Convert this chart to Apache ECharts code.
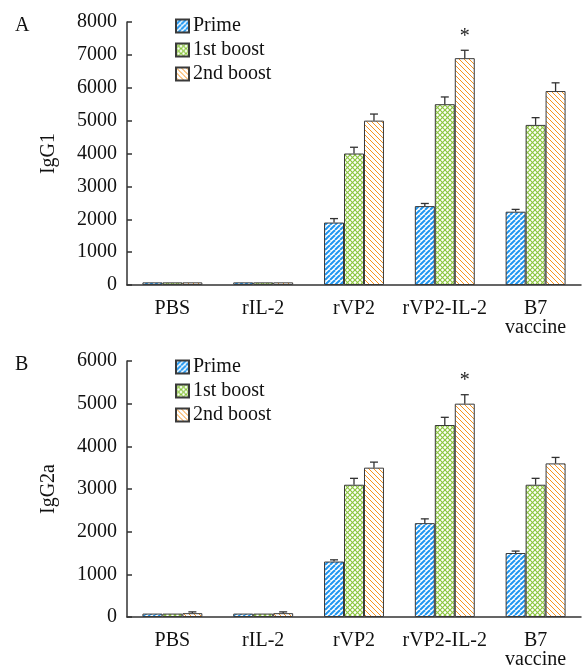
<!DOCTYPE html>
<html>
<head>
<meta charset="utf-8">
<script src="https://cdn.jsdelivr.net/npm/echarts@6/dist/echarts.min.js"></script>
<style>
  html, body { margin: 0; padding: 0; background: #fff; }
  #chart { width: 583px; height: 666px; }
</style>
</head>
<body>
<div id="chart"></div>
<script>
// data
var categories = ['PBS', 'rIL-2', 'rVP2', 'rVP2-IL-2', 'B7\nvaccine'];
var seriesNames = ['Prime', '1st boost', '2nd boost'];

var igg1Prime = [80, 80, 1900, 2400, 2230];
var igg1Boost1 = [80, 80, 4000, 5500, 4870];
var igg1Boost2 = [80, 80, 5000, 6900, 5900];
var igg1PrimeErr = [0, 0, 120, 80, 70];
var igg1Boost1Err = [0, 0, 190, 220, 220];
var igg1Boost2Err = [0, 0, 200, 240, 250];

var igg2aPrime = [80, 80, 1300, 2200, 1500];
var igg2aBoost1 = [80, 80, 3100, 4500, 3100];
var igg2aBoost2 = [90, 90, 3500, 5000, 3600];
var igg2aPrimeErr = [0, 0, 40, 100, 45];
var igg2aBoost1Err = [0, 0, 150, 180, 150];
var igg2aBoost2Err = [30, 30, 130, 210, 140];

// [category index, series index] marked with *
var starA = [[3, 2]];
var starB = [[3, 2]];

var FONT = '"Liberation Serif", "Times New Roman", serif';
var FS = 20;
var BAR_FRAC = 0.22;

// hatch fills
function makePattern(color, dirs, size, lw) {
    var c = document.createElement('canvas');
    c.width = size; c.height = size;
    var ctx = c.getContext('2d');
    ctx.fillStyle = '#fff';
    ctx.fillRect(0, 0, size, size);
    ctx.strokeStyle = color;
    ctx.lineWidth = lw;
    dirs.forEach(function (d) {
        for (var k = -1; k <= 1; k++) {
            ctx.beginPath();
            if (d === '/') {
                ctx.moveTo(k * size, size);
                ctx.lineTo(k * size + size, 0);
            } else {
                ctx.moveTo(k * size, 0);
                ctx.lineTo(k * size + size, size);
            }
            ctx.stroke();
        }
    });
    return { image: c, repeat: 'repeat' };
}

var fills = [
    makePattern('#1f96f0', ['/'], 5, 2),
    makePattern('#8cc63f', ['/', '\\'], 5, 1.2),
    makePattern('#f7931e', ['\\'], 5, 1)
];

function barSeries(name, idx, data, axis) {
    return {
        name: name,
        type: 'bar',
        xAxisIndex: axis,
        yAxisIndex: axis,
        data: data,
        barWidth: (BAR_FRAC * 100) + '%',
        barGap: '0%',
        itemStyle: { color: fills[idx], borderColor: '#3a3a3a', borderWidth: 1 },
        emphasis: { disabled: true }
    };
}

function errSeries(vals, errs, stars, axis) {
    var data = [];
    vals.forEach(function (arr, s) {
        arr.forEach(function (v, c) {
            var star = stars.some(function (p) { return p[0] === c && p[1] === s; }) ? 1 : 0;
            data.push([c, v, errs[s][c], s, star]);
        });
    });
    return {
        type: 'custom',
        xAxisIndex: axis,
        yAxisIndex: axis,
        silent: true,
        z: 5,
        data: data,
        encode: { x: 0, y: 1 },
        renderItem: function (params, api) {
            var c = api.value(0), v = api.value(1), e = api.value(2), s = api.value(3), st = api.value(4);
            var band = api.size([1, 0])[0];
            var x = api.coord([c, v])[0] + (s - 1) * band * BAR_FRAC;
            var yv = api.coord([c, v])[1];
            var yt = api.coord([c, v + e])[1];
            var style = { stroke: '#333', lineWidth: 1.3 };
            var children = [];
            if (e > 0) {
                children.push({ type: 'line', shape: { x1: x, y1: yv, x2: x, y2: yt }, style: style });
                children.push({ type: 'line', shape: { x1: x - 4, y1: yt, x2: x + 4, y2: yt }, style: style });
            }
            if (st) {
                children.push({
                    type: 'text',
                    style: { text: '*', x: x, y: yt - 14, textAlign: 'center', textVerticalAlign: 'middle',
                        font: '20px ' + FONT, fill: '#222' }
                });
            }
            return { type: 'group', children: children };
        }
    };
}

function xAxis(idx) {
    return {
        type: 'category',
        gridIndex: idx,
        data: categories,
        axisLine: { lineStyle: { color: '#333', width: 1.5 } },
        axisTick: { show: false },
        axisLabel: { color: '#111', fontFamily: FONT, fontSize: FS, margin: 14, lineHeight: 19, interval: 0 }
    };
}

function yAxis(idx, name, max) {
    return {
        type: 'value',
        gridIndex: idx,
        min: 0,
        max: max,
        interval: 1000,
        name: name,
        nameLocation: 'middle',
        nameGap: 68,
        nameTextStyle: { color: '#111', fontFamily: FONT, fontSize: FS },
        splitLine: { show: false },
        axisLine: { show: true, lineStyle: { color: '#333', width: 1.5 } },
        axisTick: { show: true, inside: true, length: 5, lineStyle: { color: '#333', width: 1.5 } },
        axisLabel: {
            color: '#111', fontFamily: FONT, fontSize: FS, margin: 10,
            formatter: function (v) { return String(v); }
        }
    };
}

function legend(top) {
    return {
        orient: 'vertical',
        left: 170,
        top: top,
        itemWidth: 13,
        itemHeight: 13,
        itemGap: 4,
        icon: 'rect',
        selectedMode: false,
        data: seriesNames,
        textStyle: { color: '#111', fontFamily: FONT, fontSize: FS, padding: [0, 0, 0, -1] }
    };
}

var myChart = echarts.init(document.getElementById('chart'), null, { renderer: 'canvas' });

var option = {
    backgroundColor: '#fff',
    animation: false,
    title: [
        { text: 'A', left: 10, top: 11, textStyle: { fontFamily: FONT, fontSize: FS, fontWeight: 'normal', color: '#111' } },
        { text: 'B', left: 10, top: 350, textStyle: { fontFamily: FONT, fontSize: FS, fontWeight: 'normal', color: '#111' } }
    ],
    legend: [legend(11), legend(352)],
    grid: [
        { left: 127, right: 2, top: 22, height: 263, outerBoundsMode: 'none' },
        { left: 127, right: 2, top: 361, height: 256, outerBoundsMode: 'none' }
    ],
    xAxis: [xAxis(0), xAxis(1)],
    yAxis: [yAxis(0, 'IgG1', 8000), yAxis(1, 'IgG2a', 6000)],
    series: [
        barSeries(seriesNames[0], 0, igg1Prime, 0),
        barSeries(seriesNames[1], 1, igg1Boost1, 0),
        barSeries(seriesNames[2], 2, igg1Boost2, 0),
        barSeries(seriesNames[0], 0, igg2aPrime, 1),
        barSeries(seriesNames[1], 1, igg2aBoost1, 1),
        barSeries(seriesNames[2], 2, igg2aBoost2, 1),
        errSeries([igg1Prime, igg1Boost1, igg1Boost2], [igg1PrimeErr, igg1Boost1Err, igg1Boost2Err], starA, 0),
        errSeries([igg2aPrime, igg2aBoost1, igg2aBoost2], [igg2aPrimeErr, igg2aBoost1Err, igg2aBoost2Err], starB, 1)
    ]
};

myChart.setOption(option);
window.addEventListener('resize', function () {
    myChart.resize();
});
</script>
</body>
</html>
